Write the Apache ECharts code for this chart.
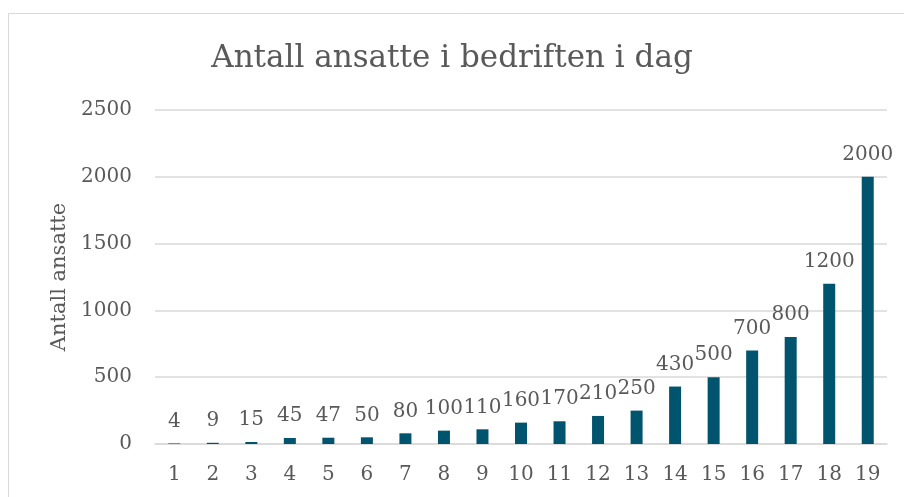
<!DOCTYPE html>
<html><head><meta charset="utf-8">
<script src="https://cdn.jsdelivr.net/npm/echarts@6/dist/echarts.min.js"></script>
<style>html,body{margin:0;padding:0;background:#fff}#c{width:904px;height:497px}</style>
</head><body><div id="c"></div>
<script>
const categories = ['1','2','3','4','5','6','7','8','9','10','11','12','13','14','15','16','17','18','19'];
const values = [4,9,15,45,47,50,80,100,110,160,170,210,250,430,500,700,800,1200,2000];
const titleText = 'Antall ansatte i bedriften i dag';
const yName = 'Antall ansatte';
const FONT = '"DejaVu Serif", serif';
const chart = echarts.init(document.getElementById('c'));
chart.setOption({
  animation:false,
  graphic:[{type:'rect',shape:{x:8.5,y:13.5,width:1000,height:1000},style:{fill:'none',stroke:'#d9d9d9',lineWidth:1}}],
  title:{text:titleText,left:'center',top:38,textStyle:{fontFamily:FONT,fontSize:31,fontWeight:'normal',color:'#595959'}},
  grid:{left:155,right:17,top:110,bottom:53},
  xAxis:{type:'category',data:categories,axisTick:{show:false},
    axisLine:{lineStyle:{color:'#d9d9d9',width:1.5}},
    axisLabel:{fontFamily:FONT,fontSize:20,color:'#595959',margin:21}},
  yAxis:{type:'value',min:0,max:2500,interval:500,name:yName,nameLocation:'middle',nameGap:84,
    nameTextStyle:{fontFamily:FONT,fontSize:21,color:'#595959'},
    splitLine:{lineStyle:{color:'#d9d9d9',width:1.5}},
    axisLabel:{fontFamily:FONT,fontSize:20,color:'#595959',margin:23,formatter:v=>String(v)}},
  series:[{type:'bar',data:values,barWidth:12,itemStyle:{color:'#00546e'},
    label:{show:true,position:'top',distance:12,fontFamily:FONT,fontSize:20,color:'#595959'}}]
});
</script></body></html>
